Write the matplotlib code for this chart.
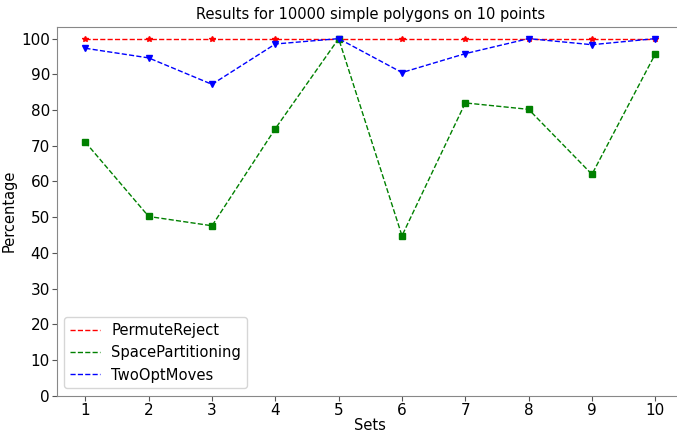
import numpy as np
import matplotlib.pyplot as plt
from matplotlib.lines import Line2D

# Datos
sets = [1, 2, 3, 4, 5, 6, 7, 8, 9, 10]
permute_reject = [100, 100, 100, 100, 100, 100, 100, 100, 100, 100]
space_partitioning = [71.0, 50.2, 47.6, 74.8, 100, 44.8, 82.0, 80.2, 62.0, 95.7]
two_opt_moves = [97.3, 94.6, 87.2, 98.5, 100, 90.5, 95.8, 100, 98.3, 100]

fig, ax = plt.subplots(figsize=(6.77, 4.33), dpi=100)

ax.plot(sets, permute_reject, 'r--', marker='*', markersize=4, linewidth=1)
ax.plot(sets, space_partitioning, 'g--', marker='s', markersize=4, linewidth=1)
ax.plot(sets, two_opt_moves, 'b--', marker='v', markersize=4, linewidth=1)

handles = [Line2D([], [], color='r', linestyle='--', linewidth=1),
           Line2D([], [], color='g', linestyle='--', linewidth=1),
           Line2D([], [], color='b', linestyle='--', linewidth=1)]
ax.legend(handles, ['PermuteReject', 'SpacePartitioning', 'TwoOptMoves'],
          loc='lower left', fontsize=10.6)

ax.set_xticks(sets)
ax.set_yticks(np.arange(0, 101, 10))
ax.set_ylim(0, 103.3)
ax.set_xlim(0.55, 10.45)
ax.tick_params(labelsize=11, color='#555555', pad=1.5)
for s in ax.spines.values():
    s.set_color('#888888')
ax.set_xlabel('Sets', fontsize=10.5, labelpad=0)
ax.set_ylabel('Percentage', fontsize=10.5, labelpad=3)
ax.set_title('Results for 10000 simple polygons on 10 points', fontsize=10.5)

plt.subplots_adjust(left=0.084, right=1.01, top=0.938, bottom=0.086)
plt.savefig('out.png')
